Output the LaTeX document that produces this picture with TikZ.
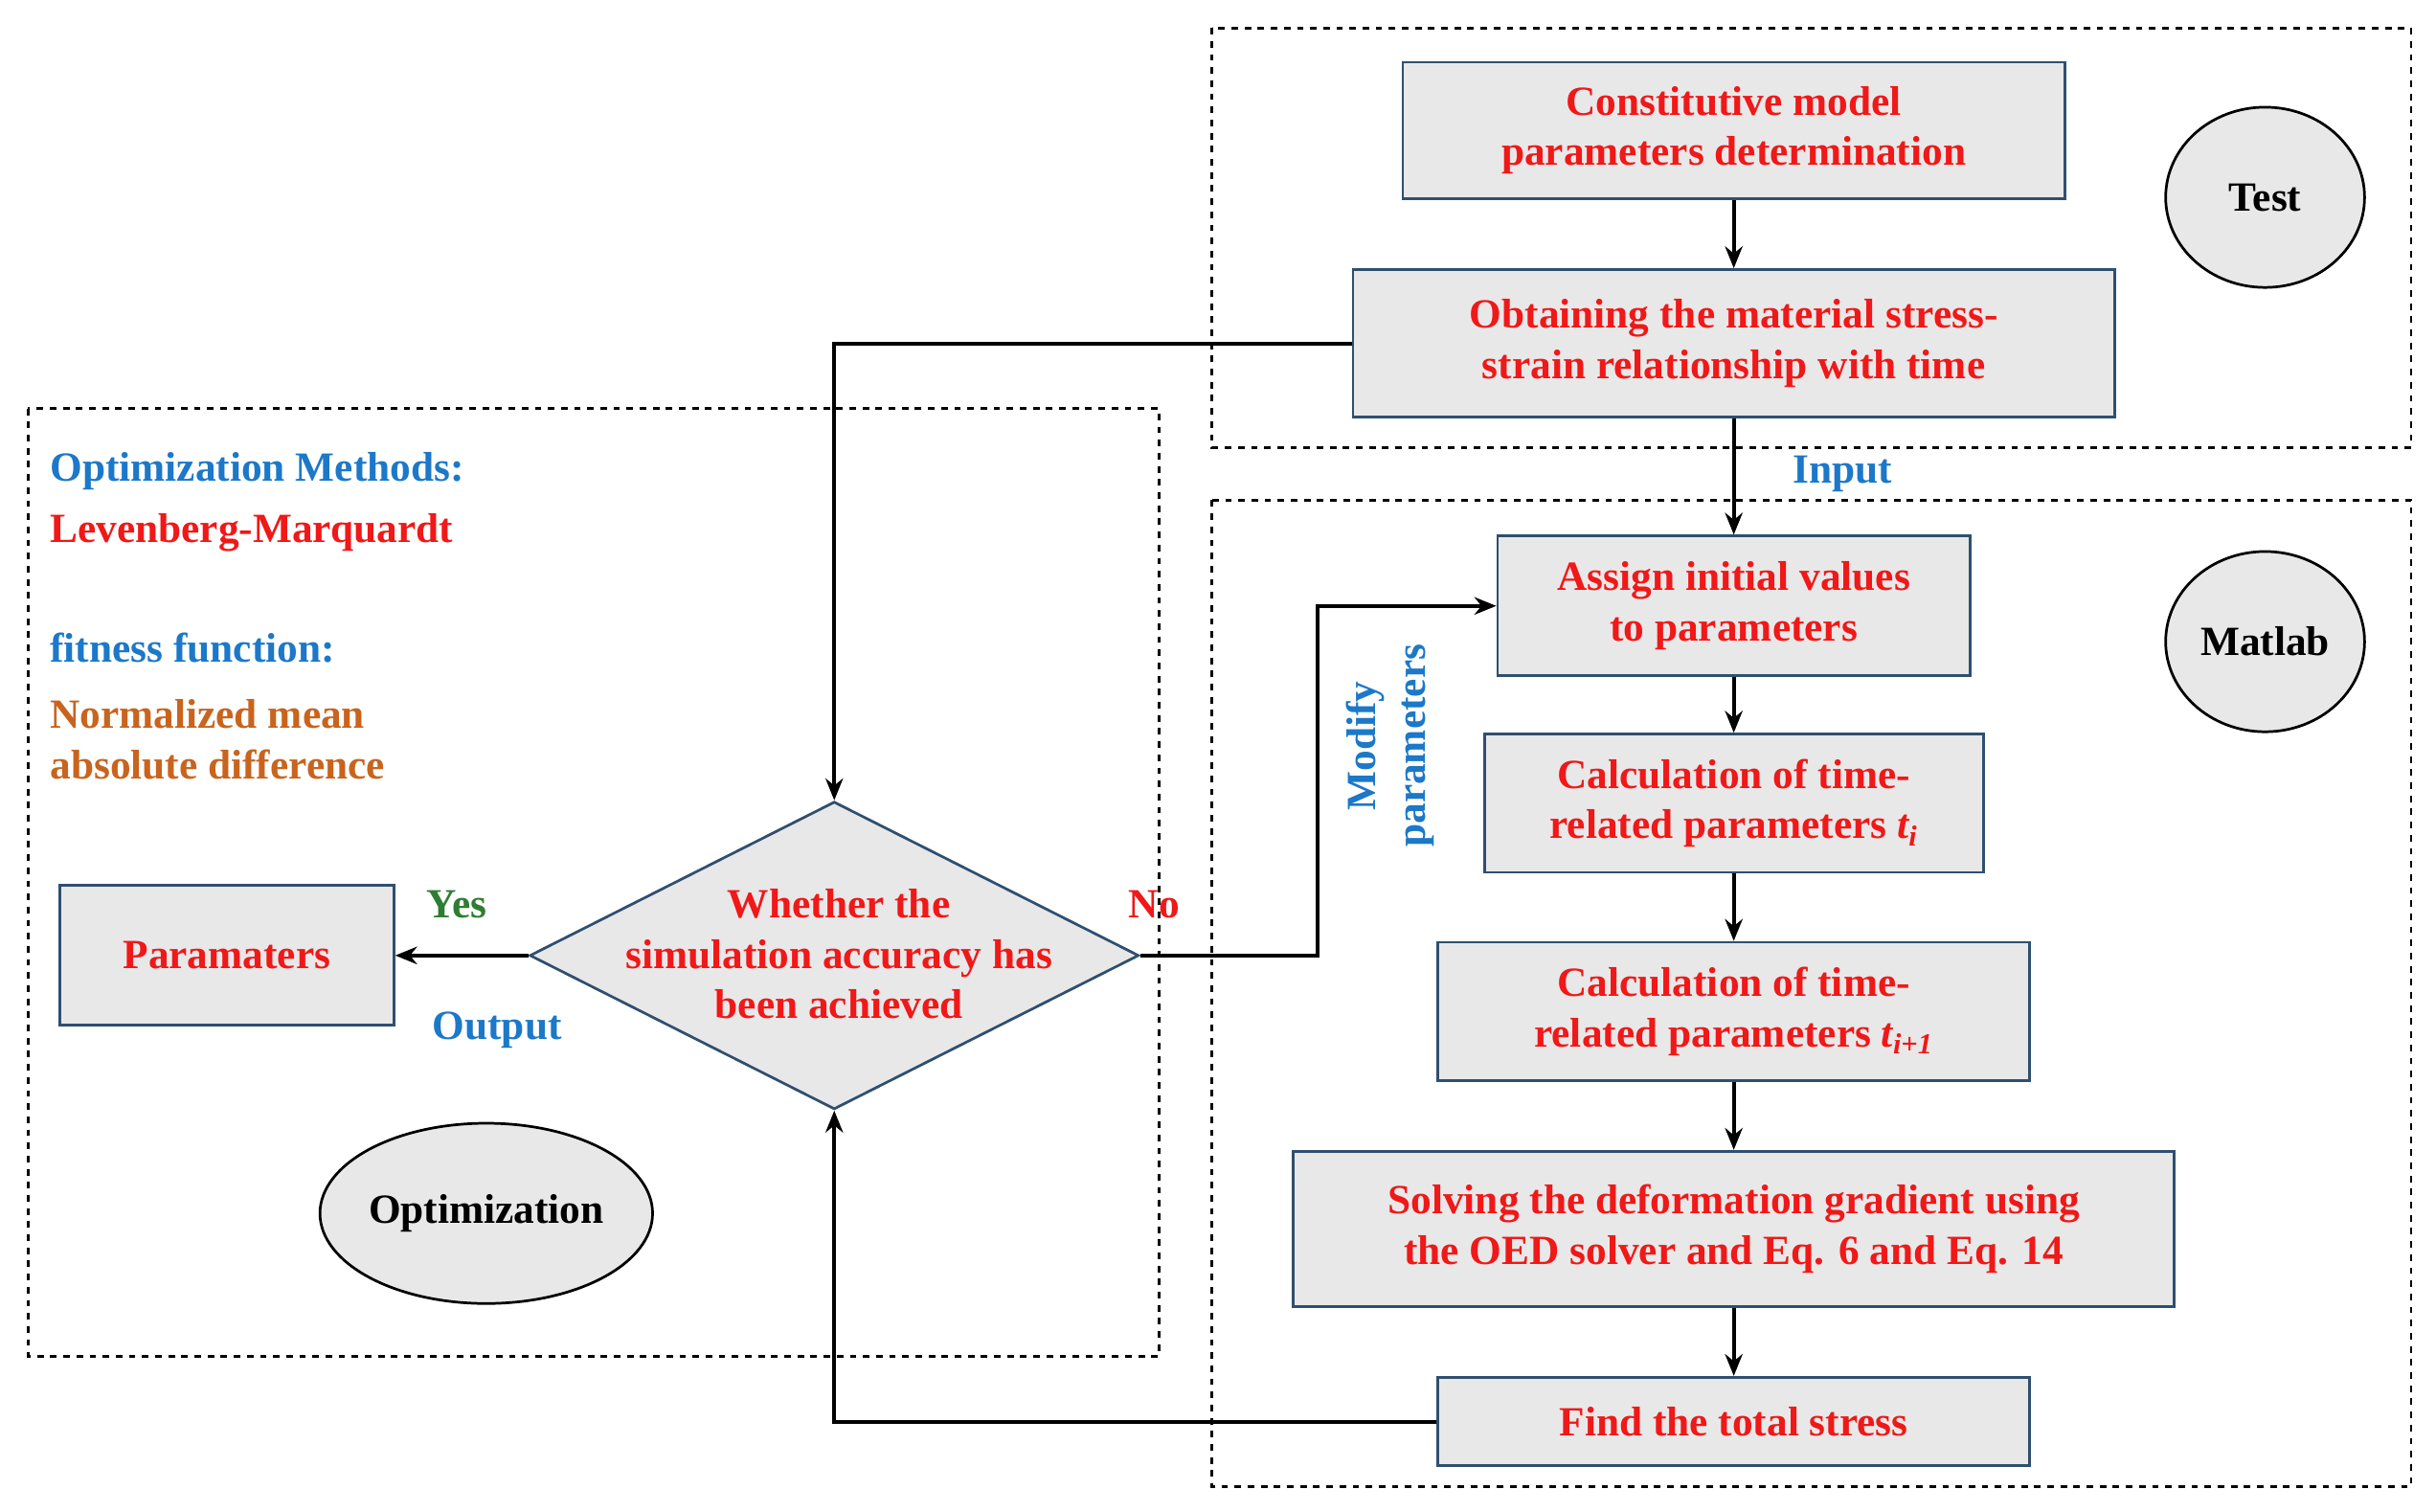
\documentclass[tikz,border=0pt]{standalone}
\usepackage{fontspec}
\setmainfont{Liberation Serif}
\usetikzlibrary{shapes.geometric,arrows.meta}
\definecolor{tred}{HTML}{F01818}
\definecolor{tblue}{HTML}{1C78C8}
\definecolor{torange}{HTML}{C8641E}
\definecolor{tgreen}{HTML}{2E7D32}
\definecolor{bord}{HTML}{2F4F6F}
\begin{document}
\begin{tikzpicture}[x=0.025cm,y=-0.025cm,
 box/.style={draw=bord,line width=1.2pt,fill=gray!18,text=tred,font=\fontsize{19}{23}\selectfont\bfseries,align=center,inner sep=0pt},
 ell/.style={draw=black,line width=1.2pt,fill=gray!18,ellipse,font=\fontsize{19}{23}\selectfont\bfseries,inner sep=0pt},
 dbox/.style={draw=black,dashed,line width=1.2pt},
 arr/.style={draw=black,line width=1.8pt,-{Stealth[length=10pt,width=8pt]}},
 lab/.style={font=\fontsize{19}{23}\selectfont\bfseries,inner sep=0pt}]
\useasboundingbox (0,0) rectangle (1568,973);
\draw[dbox] (780,18) rectangle (1552,288);
\draw[dbox] (780,322) rectangle (1552,957);
\draw[dbox] (18,263) rectangle (746,873);
\node[box,minimum width=10.65cm,minimum height=2.2cm] (b1) at (1116,84) {Constitutive model\\parameters determination};
\node[box,minimum width=12.25cm,minimum height=2.375cm] (b2) at (1116,221) {Obtaining the material stress-\\strain relationship with time};
\node[box,minimum width=7.6cm,minimum height=2.25cm] (b3) at (1116,390) {Assign initial values\\to parameters};
\node[box,minimum width=8.025cm,minimum height=2.225cm] (b4) at (1116,517) {Calculation of time-\\related parameters \textit{t\textsubscript{i}}};
\node[box,minimum width=9.525cm,minimum height=2.225cm] (b5) at (1116,651) {Calculation of time-\\related parameters \textit{t\textsubscript{i+1}}};
\node[box,minimum width=14.175cm,minimum height=2.5cm] (b6) at (1116,791) {Solving the deformation gradient using\\the OED solver and Eq. 6 and Eq. 14};
\node[box,minimum width=9.525cm,minimum height=1.425cm] (b7) at (1116,915) {Find the total stress};
\node[box,diamond,aspect=1.98,minimum width=9.8cm,minimum height=4.95cm] (d) at (537,615) {};
\node[lab,text=tred,align=center] at (540,614) {Whether the\\simulation accuracy has\\been achieved};
\node[box,minimum width=5.375cm,minimum height=2.25cm] (p) at (146,615) {Paramaters};
\node[ell,minimum width=3.2cm,minimum height=2.9cm] (t) at (1458,127) {Test};
\node[ell,minimum width=3.2cm,minimum height=2.9cm] (m) at (1458,413) {Matlab};
\node[ell,minimum width=5.25cm,minimum height=2.9cm] (o) at (313,781) {Optimization};
\node[lab,text=tblue,anchor=west] at (32,303) {Optimization Methods:};
\node[lab,text=tred,anchor=west] at (32,343) {Levenberg-Marquardt};
\node[lab,text=tblue,anchor=west] at (32,417) {fitness function:};
\node[lab,text=torange,anchor=west,align=left] at (32,476) {Normalized mean\\absolute difference};
\node[lab,text=tgreen] (yes) at (294,582) {Yes};
\node[lab,text=tblue] (out) at (320,663) {Output};
\node[lab,text=tred] (no) at (743,582) {No};
\node[lab,text=tblue] (in) at (1186,305) {Input};
\node[lab,text=tblue,rotate=90,align=center] (mod) at (895,480) {Modify\\parameters};
\coordinate (c1) at (537,221);
\coordinate (c2) at (848,615);
\coordinate (c3) at (848,390);
\coordinate (c4) at (537,915);
\draw[arr] (b1) -- (b2);
\draw[arr] (b2) -- (b3);
\draw[arr] (b3) -- (b4);
\draw[arr] (b4) -- (b5);
\draw[arr] (b5) -- (b6);
\draw[arr] (b6) -- (b7);
\draw[arr] (b2.west) -- (c1) -- (d.north);
\draw[arr] (d.east) -- (c2) -- (c3) -- (b3.west);
\draw[arr] (b7.west) -- (c4) -- (d.south);
\draw[arr] (d.west) -- (p.east);
\end{tikzpicture}
\end{document}
